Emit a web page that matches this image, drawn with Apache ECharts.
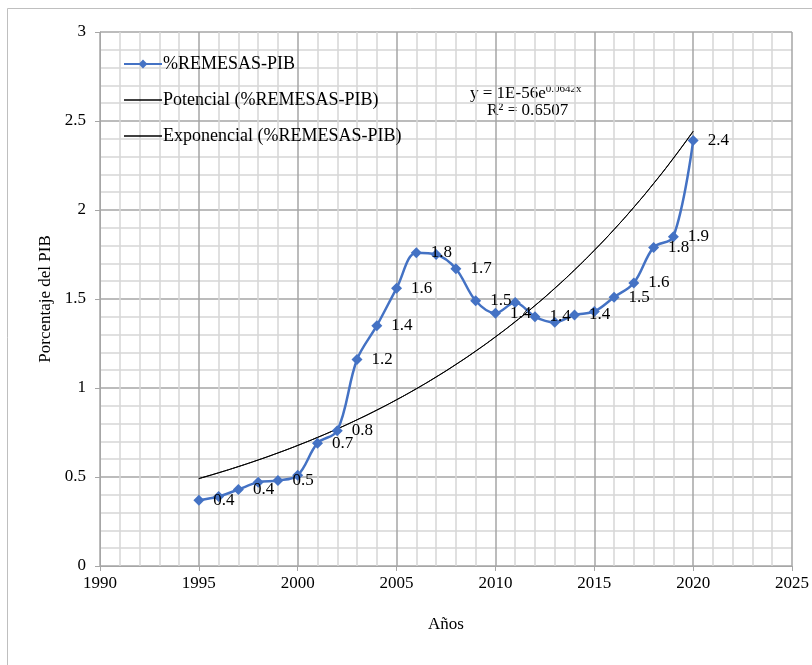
<!DOCTYPE html>
<html>
<head>
<meta charset="utf-8">
<script src="https://cdn.jsdelivr.net/npm/echarts@6/dist/echarts.min.js"></script>
<style>html,body{margin:0;padding:0;background:#fff}#c{width:812px;height:665px}</style>
</head>
<body>
<div id="c"></div>
<script>
const years = [1995,1996,1997,1998,1999,2000,2001,2002,2003,2004,2005,2006,2007,2008,2009,2010,2011,2012,2013,2014,2015,2016,2017,2018,2019,2020];
const values = [0.37,0.39,0.43,0.47,0.48,0.51,0.69,0.76,1.16,1.35,1.56,1.76,1.75,1.67,1.49,1.42,1.48,1.40,1.37,1.41,1.43,1.51,1.59,1.79,1.85,2.39];
const shownLabels = ['0.4','','0.4','','0.5','','0.7','0.8','1.2','1.4','1.6','1.8','','1.7','1.5','1.4','','1.4','','1.4','','1.5','1.6','1.8','1.9','2.4'];
const seriesNames = ['%REMESAS-PIB','Potencial (%REMESAS-PIB)','Exponencial (%REMESAS-PIB)'];
const equationText = ['y = 1E-56e', '0.0642x', 'R² = 0.6507'];

// least-squares trend fits (as Excel does) from the data
function linfit(xs, ys){
  const n = xs.length; let sx=0,sy=0,sxx=0,sxy=0;
  for(let i=0;i<n;i++){sx+=xs[i];sy+=ys[i];sxx+=xs[i]*xs[i];sxy+=xs[i]*ys[i];}
  const b=(n*sxy-sx*sy)/(n*sxx-sx*sx); const a=(sy-b*sx)/n; return [a,b];
}
const lny = values.map(Math.log);
const x0 = years[0];
const expFit = linfit(years.map(y=>y-x0), lny);
const powFit = linfit(years.map(Math.log), lny);
const expData = years.map(y=>[y, Math.exp(expFit[0]+expFit[1]*(y-x0))]);
const powData = years.map(y=>[y, Math.exp(powFit[0]+powFit[1]*Math.log(y))]);

const font = 'Liberation Serif';
const mainData = years.map((y,i)=>({
  value:[y, values[i]],
  label:{show: shownLabels[i] !== '', formatter: shownLabels[i]}
}));

const chart = echarts.init(document.getElementById('c'), null, {renderer:'canvas'});
chart.setOption({
  animation:false,
  backgroundColor:'#fff',
  textStyle:{fontFamily:font},
  grid:{left:100,right:19,top:32,bottom:99},
  graphic:[
    {type:'rect', shape:{x:7.5,y:8.5,width:830,height:700}, style:{fill:'none', stroke:'#bfbfbf', lineWidth:1}, z:-1},
    {type:'text', left:470, top:84, style:{
      text:'{a|'+equationText[0]+'}{s|'+equationText[1]+'}', fill:'#000',
      rich:{a:{fontFamily:font,fontSize:17,fill:'#000'}, s:{fontFamily:font,fontSize:11,fill:'#000',verticalAlign:'top',padding:[0,0,9,0]}}}},
    {type:'text', left:487, top:102, style:{text:equationText[2], fontFamily:font, fontSize:17, fill:'#000'}}
  ],
  legend:{
    orient:'vertical', left:118, top:50, itemGap:18, itemWidth:38, itemHeight:11,
    textStyle:{fontFamily:font, fontSize:18, color:'#000', padding:[0,0,0,-4]},
    data:[
      {name:seriesNames[0]},
      {name:seriesNames[1], icon:'path://M0,0L100,0L100,4L0,4Z', itemStyle:{color:'#000'}},
      {name:seriesNames[2], icon:'path://M0,0L100,0L100,4L0,4Z', itemStyle:{color:'#000'}}
    ]
  },
  xAxis:{
    type:'value', min:1990, max:2025, interval:5,
    name:'Años', nameLocation:'middle', nameGap:50,
    nameTextStyle:{fontFamily:font,fontSize:17,color:'#000'},
    axisLine:{show:true,lineStyle:{color:'#a6a6a6'}},
    axisTick:{show:true,length:5,lineStyle:{color:'#a6a6a6'}},
    axisLabel:{fontFamily:font,fontSize:17,color:'#000',margin:9, formatter:v=>String(v)},
    splitLine:{show:true,lineStyle:{color:'#a6a6a6',width:1.5}},
    minorTick:{show:false,splitNumber:5},
    minorSplitLine:{show:true,lineStyle:{color:'#d6d6d6',width:1.5}}
  },
  yAxis:{
    type:'value', min:0, max:3, interval:0.5,
    name:'Porcentaje del PIB', nameLocation:'middle', nameGap:46,
    nameTextStyle:{fontFamily:font,fontSize:17,color:'#000'},
    axisLine:{show:true,lineStyle:{color:'#a6a6a6'}},
    axisTick:{show:true,length:5,lineStyle:{color:'#a6a6a6'}},
    axisLabel:{fontFamily:font,fontSize:17,color:'#000',margin:14, formatter:v=>String(v)},
    splitLine:{show:true,lineStyle:{color:'#a6a6a6',width:1.5}},
    minorTick:{show:false,splitNumber:5},
    minorSplitLine:{show:true,lineStyle:{color:'#d6d6d6',width:1.5}}
  },
  series:[
    {name:seriesNames[0], type:'line', data:mainData, smooth:0.35,
     symbol:'diamond', symbolSize:11, color:'#4472C4',
     lineStyle:{color:'#4472C4',width:2.5}, itemStyle:{color:'#4472C4'},
     label:{position:'right', distance:9, fontFamily:font, fontSize:17, color:'#000'},
     z:3},
    {name:seriesNames[1], type:'line', data:powData, smooth:true, symbol:'none', color:'#000',
     lineStyle:{color:'#000',width:1}, z:2},
    {name:seriesNames[2], type:'line', data:expData, smooth:true, symbol:'none', color:'#000',
     lineStyle:{color:'#000',width:1}, z:2}
  ]
});
</script>
</body>
</html>
